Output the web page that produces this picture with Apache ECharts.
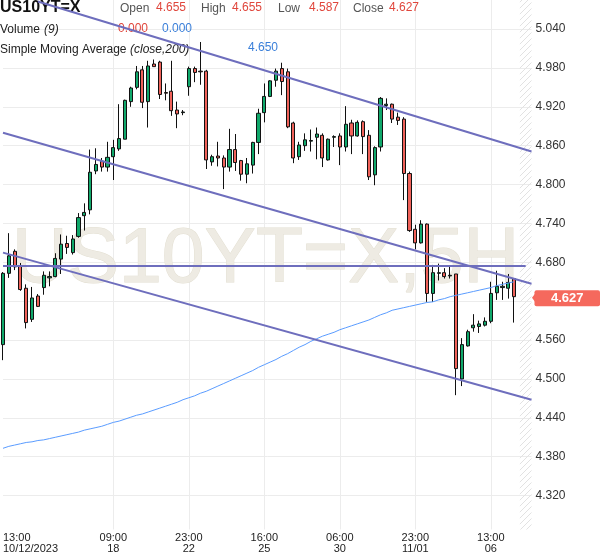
<!DOCTYPE html>
<html><head><meta charset="utf-8">
<script src="https://cdn.jsdelivr.net/npm/echarts@6/dist/echarts.min.js"></script>
<style>html,body{margin:0;padding:0;background:#fff}#c{width:600px;height:558px}</style>
</head><body><div id="c"></div>
<script>
// ---- data (5H bars, US10YT=X) ----
const opens = [4.553,4.663,4.697,4.674,4.640,4.592,4.628,4.641,4.656,4.658,
4.685,4.709,4.695,4.720,4.752,4.761,4.821,4.836,4.827,4.843,
4.855,4.870,4.928,4.950,4.977,4.928,4.986,4.989,4.942,4.944,
4.915,4.911,4.951,4.979,4.975,4.975,4.835,4.844,4.841,4.827,
4.854,4.837,4.816,4.830,4.865,4.911,4.936,4.961,4.979,4.974,
4.895,4.843,4.860,4.867,4.873,4.876,4.838,4.873,4.875,4.858,
4.895,4.875,4.897,4.876,4.815,4.858,4.922,4.924,4.904,4.901,
4.817,4.731,4.710,4.739,4.632,4.663,4.664,4.659,4.662,4.500,
4.551,4.579,4.581,4.583,4.589,4.633,4.641,4.640,4.655];
const closes = [4.663,4.690,4.673,4.638,4.587,4.625,4.612,4.660,4.658,4.686,
4.708,4.703,4.716,4.749,4.757,4.819,4.831,4.827,4.842,4.857,
4.871,4.930,4.949,4.974,4.927,4.983,4.982,4.939,4.941,4.914,
4.909,4.912,4.979,4.973,4.974,4.838,4.843,4.841,4.827,4.854,
4.834,4.816,4.832,4.865,4.910,4.936,4.960,4.975,4.959,4.889,
4.841,4.861,4.869,4.868,4.878,4.841,4.870,4.874,4.858,4.893,
4.875,4.896,4.874,4.812,4.857,4.933,4.924,4.901,4.899,4.817,
4.729,4.710,4.739,4.632,4.664,4.664,4.658,4.660,4.516,4.553,
4.573,4.583,4.585,4.589,4.632,4.643,4.643,4.649,4.627];
const lows = [4.529,4.656,4.668,4.636,4.578,4.588,4.611,4.630,4.643,4.657,
4.662,4.693,4.692,4.718,4.729,4.754,4.816,4.820,4.820,4.807,
4.852,4.870,4.920,4.947,4.918,4.888,4.982,4.932,4.930,4.906,
4.887,4.907,4.937,4.958,4.954,4.824,4.829,4.828,4.793,4.820,
4.821,4.806,4.802,4.817,4.847,4.896,4.935,4.951,4.938,4.887,
4.833,4.838,4.852,4.851,4.839,4.827,4.837,4.858,4.830,4.851,
4.847,4.874,4.847,4.807,4.799,4.851,4.915,4.895,4.892,4.776,
4.727,4.700,4.709,4.619,4.619,4.652,4.655,4.655,4.475,4.489,
4.550,4.573,4.571,4.581,4.586,4.622,4.622,4.624,4.587];
const highs = [4.665,4.725,4.700,4.679,4.646,4.642,4.631,4.666,4.666,4.694,
4.723,4.721,4.722,4.756,4.771,4.854,4.856,4.841,4.866,4.869,
4.924,4.931,4.951,4.983,4.983,4.991,4.993,4.991,4.956,4.991,
4.928,4.915,4.982,4.982,5.020,4.977,4.846,4.866,4.845,4.886,
4.878,4.838,4.841,4.866,4.917,4.956,4.961,4.979,4.988,4.979,
4.897,4.866,4.879,4.885,4.888,4.879,4.871,4.876,4.879,4.921,
4.900,4.899,4.899,4.884,4.859,4.935,4.933,4.925,4.911,4.904,
4.820,4.738,4.745,4.740,4.676,4.678,4.671,4.673,4.662,4.563,
4.576,4.600,4.590,4.595,4.650,4.667,4.650,4.662,4.655];
const sma200 = [4.393,4.396,4.398,4.400,4.402,4.403,4.405,4.406,4.408,4.410,
4.412,4.414,4.416,4.418,4.421,4.423,4.425,4.427,4.430,4.433,
4.435,4.438,4.441,4.444,4.446,4.449,4.452,4.455,4.458,4.461,
4.464,4.468,4.471,4.474,4.478,4.481,4.485,4.489,4.493,4.497,
4.501,4.505,4.509,4.513,4.518,4.522,4.526,4.530,4.535,4.539,
4.544,4.549,4.553,4.558,4.562,4.566,4.569,4.572,4.576,4.579,
4.582,4.585,4.588,4.591,4.595,4.599,4.602,4.606,4.608,4.610,
4.612,4.614,4.616,4.618,4.619,4.622,4.624,4.627,4.629,4.631,
4.633,4.635,4.637,4.639,4.641,4.644,4.646,4.648,4.650];
const volumeValues = [0.000, 0.000];

// x axis tick labels (bar index, time, date)
const tickIndex = [0, 19, 32, 45, 58, 71, 84];
const tickTimes = ['13:00','09:00','23:00','16:00','06:00','23:00','13:00'];
const tickDates = ['10/12/2023','18','22','25','30','11/01','06'];
// y axis tick labels
const yTicks = [4.32,4.38,4.44,4.50,4.56,4.62,4.68,4.74,4.80,4.86,4.92,4.98,5.04];

// drawn trend lines: [startIndex, startValue, endIndex, endValue]
const trendTop    = [6, 5.0825, 91, 4.851];
const trendMiddle = [0, 4.880, 91, 4.647];
const trendLower  = [0, 4.695, 91, 4.468];
const levelLine   = [0, 4.674, 90, 4.674];

const totalSlots = 92; // 89 bars + future space
const cats = [];
for (let i = 0; i < totalSlots; i++) cats.push(String(i));
const ohlc = opens.map((o, i) => [o, closes[i], lows[i], highs[i]]);
const last = opens.length - 1;

// hatch pattern for future area
const pc = document.createElement('canvas');
pc.width = 6; pc.height = 6;
const pctx = pc.getContext('2d');
pctx.strokeStyle = '#e2e2e2'; pctx.lineWidth = 1;
pctx.beginPath(); pctx.moveTo(0, 6); pctx.lineTo(6, 0); pctx.stroke();

const chart = echarts.init(document.getElementById('c'), null, {renderer: 'canvas'});
const FONT = '"Liberation Sans", Arial, sans-serif';
const tl = (a) => [{coord: [a[0], a[1]]}, {coord: [a[2], a[3]]}];

function txt(x, y, text, color, size, weight, style) {
  return {type: 'text', x: x, y: y, z: 1, silent: true,
    style: {text: text, fill: color, font: (style || 'normal') + ' ' + (weight || 'normal') + ' ' + size + 'px ' + FONT, verticalAlign: 'middle', align: 'left'}};
}

chart.setOption({
  animation: false,
  backgroundColor: '#fff',
  textStyle: {fontFamily: FONT},
  grid: {left: 1, top: 0, width: 530.5, height: 529.5, containLabel: false},
  xAxis: {
    type: 'category', data: cats, boundaryGap: false,
    axisLine: {show: false}, axisTick: {show: false},
    axisLabel: {
      interval: (i) => tickIndex.indexOf(i) >= 0,
      formatter: (v, i) => { const k = tickIndex.indexOf(Number(v)); return k >= 0 ? tickTimes[k] + '\n' + tickDates[k] : ''; },
      color: '#222', fontSize: 11, lineHeight: 11, margin: 3, alignMinLabel: 'left'
    },
    splitLine: {show: true, interval: (i) => i > 0 && tickIndex.indexOf(i) >= 0, lineStyle: {color: '#ececec', width: 1}}
  },
  yAxis: {
    type: 'value', position: 'right', min: 4.2677, max: 5.0848,
    axisLine: {show: false},
    axisTick: {show: false, customValues: yTicks},
    axisLabel: {customValues: yTicks, formatter: (v) => v.toFixed(3), color: '#333', fontSize: 12, margin: 4},
    splitLine: {show: true, lineStyle: {color: '#ececec', width: 1}}
  },
  series: [
    {
      name: 'SMA200', type: 'line', data: sma200, showSymbol: false, symbol: 'none',
      lineStyle: {color: '#5a9cff', width: 1}, z: 4, silent: true,
      markLine: {
        silent: true, symbol: ['none', 'none'], label: {show: false},
        lineStyle: {color: '#6e6ebd', width: 2, type: 'solid', opacity: 1},
        emphasis: {disabled: true},
        data: [tl(trendTop), tl(trendMiddle), tl(trendLower), tl(levelLine)]
      }
    },
    {
      name: 'US10YT=X', type: 'candlestick', data: ohlc, barWidth: 3.6, clip: false, z: 3,
      itemStyle: {color: '#10a86b', color0: '#f0625a', borderColor: '#111', borderColor0: '#111', borderColorDoji: '#111', borderWidth: 1},
      markArea: {
        silent: true,
        itemStyle: {color: {image: pc, repeat: 'repeat'}},
        data: [[{xAxis: '89'}, {xAxis: '91'}]]
      }
    }
  ]
});

// last price tag, placed through the y axis scale
const tagY = chart.convertToPixel({yAxisIndex: 0}, closes[last]);
const gridRight = chart.convertToPixel({xAxisIndex: 0}, cats[totalSlots - 1]);

chart.setOption({
  graphic: {elements: [
    {type: 'text', x: 12, y: 261, z: 1, silent: true,
      style: {text: 'US10YT=X,5H', font: 'normal 77px ' + FONT, fill: '#eeebe3', stroke: '#e3dfd2', lineWidth: 1, verticalAlign: 'middle', align: 'left'}},
    txt(0, 8, 'US10YT=X', '#111', 16, 'bold'),
    txt(120, 9, 'Open', '#555', 12),
    txt(156, 8, opens[last].toFixed(3), '#e0463c', 12),
    txt(201, 9, 'High', '#555', 12),
    txt(232, 8, highs[last].toFixed(3), '#e0463c', 12),
    txt(278, 9, 'Low', '#555', 12),
    txt(309, 8, lows[last].toFixed(3), '#e0463c', 12),
    txt(353, 9, 'Close', '#555', 12),
    txt(389, 8, closes[last].toFixed(3), '#e0463c', 12),
    txt(0, 30, 'Volume', '#222', 12),
    txt(44, 30, '(9)', '#222', 12, 'normal', 'italic'),
    txt(118, 29, volumeValues[0].toFixed(3), '#e0463c', 12),
    txt(162, 29, volumeValues[1].toFixed(3), '#3a7fd9', 12),
    txt(0, 50, 'Simple Moving Average', '#222', 12),
    txt(130, 50, '(close,200)', '#222', 12, 'normal', 'italic'),
    txt(248, 48, sma200[last].toFixed(3), '#3a7fd9', 12),
    {type: 'polygon', z: 10, silent: true,
      shape: {points: [[gridRight + 0.5, tagY + 1], [gridRight + 3.5, tagY - 3], [gridRight + 3.5, tagY + 5]]},
      style: {fill: '#f5695d'}},
    {type: 'rect', z: 10, silent: true,
      shape: {x: gridRight + 3, y: tagY - 6.5, width: 600 - gridRight - 3, height: 16, r: 2},
      style: {fill: '#f5695d'}},
    {type: 'text', z: 11, silent: true, x: (gridRight + 3 + 600) / 2, y: tagY + 1.5,
      style: {text: closes[last].toFixed(3), fill: '#fff', font: 'bold 13px ' + FONT, align: 'center', verticalAlign: 'middle'}}
  ]}
});
</script>
</body></html>
